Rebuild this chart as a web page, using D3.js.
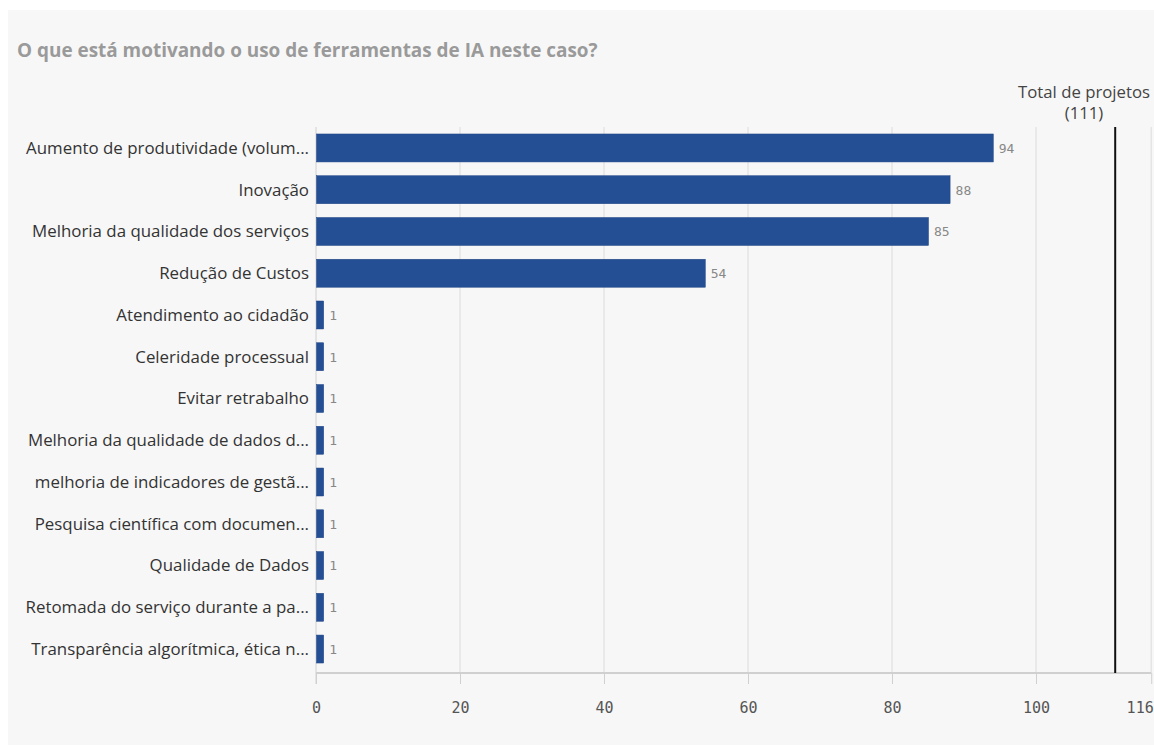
<!DOCTYPE html>
<html>
<head>
<meta charset="utf-8">
<script src="https://cdn.jsdelivr.net/npm/d3@7"></script>
<style>
  html, body { margin: 0; padding: 0; background: #ffffff; }
  svg { display: block; }
</style>
</head>
<body>
<svg id="chart" width="1154" height="745"></svg>
<script>
const title = "O que está motivando o uso de ferramentas de IA neste caso?";
const categories = [
  "Aumento de produtividade (volum...",
  "Inovação",
  "Melhoria da qualidade dos serviços",
  "Redução de Custos",
  "Atendimento ao cidadão",
  "Celeridade processual",
  "Evitar retrabalho",
  "Melhoria da qualidade de dados d...",
  "melhoria de indicadores de gestã...",
  "Pesquisa científica com documen...",
  "Qualidade de Dados",
  "Retomada do serviço durante a pa...",
  "Transparência algorítmica, ética n..."
];
const values = [94, 88, 85, 54, 1, 1, 1, 1, 1, 1, 1, 1, 1];
const tickValues = [0, 20, 40, 60, 80, 100, 116];
const xMax = 116;
const totalProjects = 111;
const totalLabel = ["Total de projetos", "(111)"];

const FONT = "'Open Sans', Roboto, sans-serif";
const svg = d3.select("#chart");
svg.append("rect").attr("x", 8).attr("y", 10).attr("width", 1146).attr("height", 735).attr("fill", "#f7f7f7");

// scale a font size so that a reference text spans a target width
function fit(textSel, target, base) {
  const w = textSel.node().getComputedTextLength();
  return base * target / w;
}

const titleText = svg.append("text").attr("x", 17).attr("y", 57)
  .attr("font-family", FONT).attr("font-weight", "bold")
  .attr("font-size", 16).attr("fill", "#9a9a9a").text(title);
titleText.attr("font-size", fit(titleText, 581, 16));

const x0 = 316, x1 = 1151.2, yTop = 127, yBot = 673;
const x = d3.scaleLinear().domain([0, xMax]).range([x0, x1]);
const y = d3.scaleBand().domain(categories).range([yTop, 670]).paddingInner(0.33).paddingOuter(0.167);

// gridlines
svg.append("g").selectAll("line").data(tickValues.slice(1)).join("line")
  .attr("x1", d => x(d)).attr("x2", d => x(d))
  .attr("y1", yTop).attr("y2", yBot)
  .attr("stroke", "#dcdcdc").attr("stroke-width", 1);

// x axis
const xAxis = d3.axisBottom(x).tickValues(tickValues).tickSize(11).tickPadding(18).tickFormat(d3.format("d"));
const gx = svg.append("g").attr("transform", `translate(0,${yBot})`).call(xAxis);
gx.select(".domain").attr("stroke", "#d0d0d0").attr("stroke-width", 2).attr("d", `M${x0},0H${x1}`);
gx.selectAll(".tick line").attr("stroke", "#d0d0d0");
gx.selectAll(".tick text").attr("font-family", "'DejaVu Sans Mono', monospace").attr("font-size", 15).attr("fill", "#555")
  .attr("text-anchor", d => d === xMax ? "end" : "middle")
  .attr("dx", d => d === xMax ? 2 : 0);

// y axis line
svg.append("line").attr("x1", x0).attr("x2", x0).attr("y1", yTop).attr("y2", yBot + 11)
  .attr("stroke", "#d0d0d0").attr("stroke-width", 1);

// y labels
const labels = svg.append("g").selectAll("text").data(categories).join("text")
  .attr("x", x0 - 7).attr("y", d => y(d) + y.bandwidth() / 2)
  .attr("dy", "0.35em").attr("text-anchor", "end")
  .attr("font-family", FONT).attr("font-size", 14).attr("fill", "#333")
  .text(d => d);
labels.attr("font-size", fit(labels.filter((d, i) => i === 0), 283, 14));

// bars
svg.append("g").selectAll("rect").data(values).join("rect")
  .attr("x", x(0) + 0.5).attr("y", (d, i) => y(categories[i]))
  .attr("width", d => x(d) - x(0)).attr("height", y.bandwidth())
  .attr("fill", "#254f94").attr("stroke", "#1f4585").attr("stroke-width", 0.5);

// value labels
svg.append("g").selectAll("text").data(values).join("text")
  .attr("x", d => x(d) + 6).attr("y", (d, i) => y(categories[i]) + y.bandwidth() / 2)
  .attr("dy", "0.38em")
  .attr("font-family", "'DejaVu Sans Mono', monospace").attr("font-size", 13).attr("fill", "#888")
  .text(d => d);

// total reference line
svg.append("line").attr("x1", x(totalProjects)).attr("x2", x(totalProjects))
  .attr("y1", yTop).attr("y2", yBot)
  .attr("stroke", "#111").attr("stroke-width", 2);
const tl = svg.append("g").selectAll("text").data(totalLabel).join("text")
  .attr("x", 1084).attr("y", (d, i) => 98 + i * 21)
  .attr("text-anchor", "middle")
  .attr("font-family", FONT).attr("font-size", 14).attr("fill", "#444")
  .text(d => d);
tl.attr("font-size", fit(tl.filter((d, i) => i === 0), 132, 14));
</script>
</body>
</html>
